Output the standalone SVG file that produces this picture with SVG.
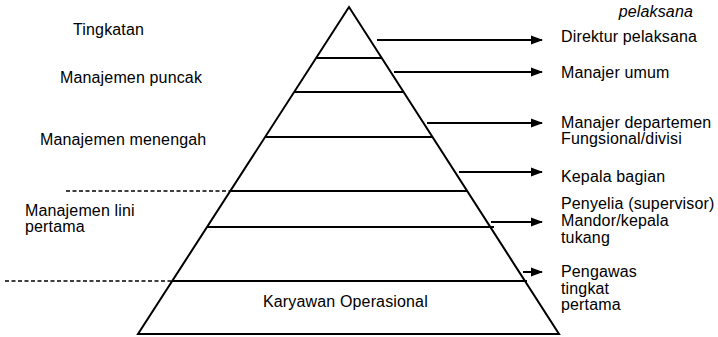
<svg xmlns="http://www.w3.org/2000/svg" width="718" height="337" viewBox="0 0 718 337">
<defs>
<style>
text{font-family:"Liberation Sans",Arial,sans-serif;font-size:16px;fill:#000;letter-spacing:0.15px}
.ln{stroke:#000;stroke-width:2;fill:none}
.dash{stroke:#000;stroke-width:1.6;stroke-dasharray:4 2.5;fill:none}
.it{font-style:italic}
</style>
<marker id="ah" markerWidth="12" markerHeight="10" refX="11" refY="5" orient="auto" markerUnits="userSpaceOnUse">
<path d="M0,0.5 L12,5 L0,9.5 Z" fill="#000"/>
</marker>
</defs>
<g id="pyramid">
<path class="ln" d="M349,7 L138,334 L559,334 Z"/>
<line class="ln" x1="317" y1="58" x2="382" y2="58"/>
<line class="ln" x1="295" y1="92" x2="403" y2="92"/>
<line class="ln" x1="266" y1="137" x2="432" y2="137"/>
<line class="ln" x1="231" y1="191" x2="467" y2="191"/>
<line class="ln" x1="207" y1="227" x2="494" y2="227"/>
<line class="ln" x1="172" y1="281" x2="527" y2="281"/>
</g>
<g id="levels-left">
<text x="73" y="35">Tingkatan</text>
<text x="60" y="83">Manajemen puncak</text>
<text x="40" y="145">Manajemen menengah</text>
<text x="25" y="216">Manajemen lini</text>
<text x="25" y="232">pertama</text>
</g>
<g id="base-label">
<text x="263" y="307">Karyawan Operasional</text>
</g>
<g id="levels-right">
<text class="it" x="693" y="17" text-anchor="end">pelaksana</text>
<text x="561" y="42">Direktur pelaksana</text>
<text x="561" y="78">Manajer umum</text>
<text x="561" y="128">Manajer departemen</text>
<text x="561" y="144">Fungsional/divisi</text>
<text x="561" y="182">Kepala bagian</text>
<text x="561" y="209">Penyelia (supervisor)</text>
<text x="561" y="226">Mandor/kepala</text>
<text x="561" y="243">tukang</text>
<text x="561" y="277">Pengawas</text>
<text x="561" y="294">tingkat</text>
<text x="561" y="310">pertama</text>
</g>
<g id="connectors">
<line class="dash" x1="66" y1="191" x2="231" y2="191"/>
<line class="dash" x1="5" y1="281" x2="172" y2="281"/>
<line class="ln" x1="377" y1="40" x2="542" y2="40" marker-end="url(#ah)"/>
<line class="ln" x1="394" y1="72" x2="542" y2="72" marker-end="url(#ah)"/>
<line class="ln" x1="427" y1="123" x2="542" y2="123" marker-end="url(#ah)"/>
<line class="ln" x1="459" y1="172" x2="542" y2="172" marker-end="url(#ah)"/>
<line class="ln" x1="491" y1="222" x2="542" y2="222" marker-end="url(#ah)"/>
<line class="ln" x1="523" y1="272" x2="542" y2="272" marker-end="url(#ah)"/>
</g>
</svg>
